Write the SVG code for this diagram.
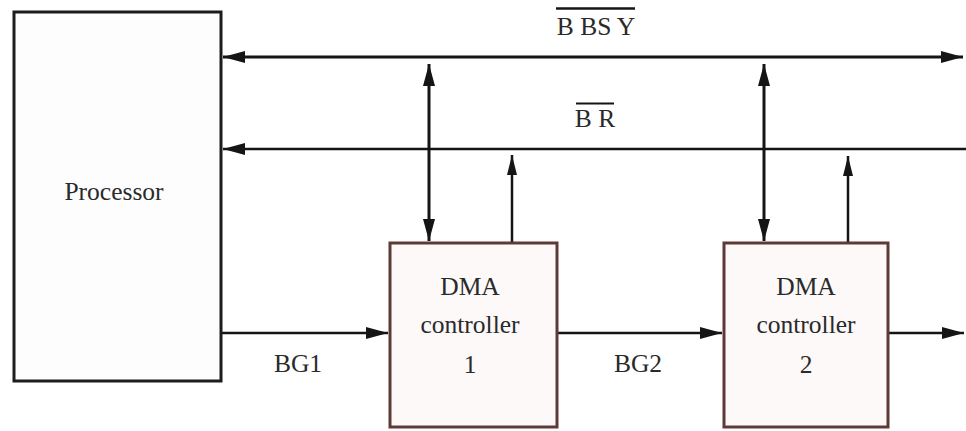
<svg xmlns="http://www.w3.org/2000/svg" width="966" height="431" viewBox="0 0 966 431">
<defs>
<marker id="ah" viewBox="0 0 22 12" refX="22" refY="6" markerWidth="22" markerHeight="12" markerUnits="userSpaceOnUse" orient="auto-start-reverse">
<path d="M0,0 L22,6 L0,12 z" fill="#151515"/>
</marker>
<marker id="ahs" viewBox="0 0 20 10" refX="20" refY="5" markerWidth="20" markerHeight="10" markerUnits="userSpaceOnUse" orient="auto-start-reverse">
<path d="M0,0 L20,5 L0,10 z" fill="#151515"/>
</marker>
<style>
text{font-family:"Liberation Serif","Times New Roman",serif;font-size:25.5px;fill:#2a2a2a;text-anchor:middle}
.proc{fill:#fdfdfe;stroke:#1c1c1c;stroke-width:3}
.dma{fill:#fdf9f9;stroke:#5e3a36;stroke-width:3}
.bus{stroke:#151515;fill:none}
</style>
</defs>
<rect width="966" height="431" fill="#ffffff"/>
<g id="connectors">
<line class="bus" x1="223" y1="57" x2="963" y2="57" stroke-width="3" marker-start="url(#ah)" marker-end="url(#ah)"/>
<line class="bus" x1="966" y1="149" x2="223" y2="149" stroke-width="2.5" marker-end="url(#ah)"/>
<line class="bus" x1="429" y1="64" x2="429" y2="241" stroke-width="3" marker-start="url(#ah)" marker-end="url(#ah)"/>
<line class="bus" x1="764" y1="64" x2="764" y2="241" stroke-width="3" marker-start="url(#ah)" marker-end="url(#ah)"/>
<line class="bus" x1="512" y1="242" x2="512" y2="155" stroke-width="2.5" marker-end="url(#ahs)"/>
<line class="bus" x1="848" y1="242" x2="848" y2="156" stroke-width="2.5" marker-end="url(#ahs)"/>
<line class="bus" x1="221" y1="333" x2="388" y2="333" stroke-width="2.5" marker-end="url(#ah)"/>
<line class="bus" x1="557" y1="333" x2="722" y2="333" stroke-width="2.5" marker-end="url(#ah)"/>
<line class="bus" x1="888" y1="333" x2="964" y2="333" stroke-width="2.5" marker-end="url(#ah)"/>
</g>
<g id="label-bbsy">
<text x="596" y="35">B BS Y</text>
<line x1="556" y1="8.5" x2="635" y2="8.5" stroke="#151515" stroke-width="2.5"/>
</g>
<g id="label-br">
<text x="595" y="127">B R</text>
<line x1="576" y1="103.5" x2="614" y2="103.5" stroke="#151515" stroke-width="2"/>
</g>
<g id="processor">
<rect class="proc" x="14" y="12" width="207" height="369"/>
<text x="114" y="200">Processor</text>
</g>
<g id="dma1">
<rect class="dma" x="390" y="243" width="167" height="184"/>
<text x="470" y="295">DMA</text>
<text x="470" y="333">controller</text>
<text x="470" y="373">1</text>
</g>
<g id="dma2">
<rect class="dma" x="724" y="243" width="164" height="184"/>
<text x="806" y="295">DMA</text>
<text x="806" y="333">controller</text>
<text x="806" y="373">2</text>
</g>
<g id="label-bg1"><text x="298" y="372">BG1</text></g>
<g id="label-bg2"><text x="638" y="372">BG2</text></g>
</svg>
